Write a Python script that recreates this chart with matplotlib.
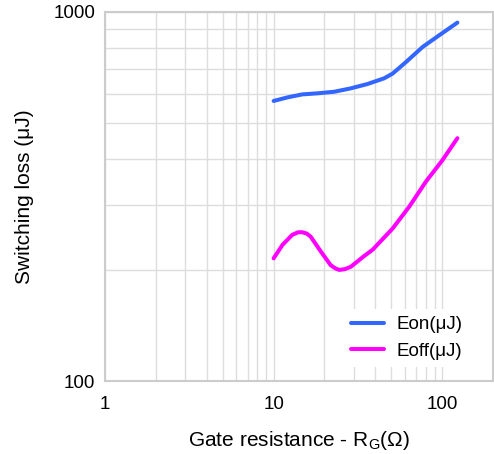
import matplotlib
matplotlib.use("Agg")
import matplotlib.pyplot as plt
from matplotlib.ticker import FixedLocator, NullFormatter, LogLocator

plt.rcParams['font.family'] = ['Liberation Sans', 'DejaVu Sans']

# Data
rg_on = [10, 12.1, 14.8, 18.2, 22.9, 28.7, 36, 45.2, 50.8, 61, 76.5, 96, 123]
eon = [574, 587, 598, 602, 608, 621, 638, 661, 681, 732, 804, 865, 936]

rg_off = [10, 11.3, 12.9, 14.0, 14.8, 15.7, 16.6, 19.1, 21.8, 23.2, 24.5, 26.5, 28.7,
          34.4, 38.7, 50.8, 63.8, 80, 100.4, 123]
eoff = [215, 234, 249, 253, 253, 251, 246, 224, 206, 202, 200, 201, 204,
        218, 227, 259, 297, 347, 397, 455]

x_ticks = [1, 10, 100]
x_ticklabels = ["1", "10", "100"]
y_ticks = [100, 1000]
y_ticklabels = ["100", "1000"]

fig = plt.figure(figsize=(4.94, 4.54), dpi=100)
ax = fig.add_axes([105/494, 1-381/454, 388/494, 369/454])

ax.plot(rg_on, eon, color='#3366ff', lw=2.9, label='Eon(μJ)',
        solid_capstyle='round', solid_joinstyle='round')
ax.plot(rg_off, eoff, color='#ff00ff', lw=2.9, label='Eoff(μJ)',
        solid_capstyle='round', solid_joinstyle='round')

ax.set_xscale('log')
ax.set_yscale('log')
ax.set_xlim(1, 200)
ax.set_ylim(100, 1000)

ax.xaxis.set_major_locator(FixedLocator(x_ticks))
ax.set_xticklabels(x_ticklabels)
ax.yaxis.set_major_locator(FixedLocator(y_ticks))
ax.set_yticklabels(y_ticklabels)
ax.xaxis.set_minor_locator(LogLocator(base=10, subs=range(2, 10), numticks=20))
ax.yaxis.set_minor_locator(LogLocator(base=10, subs=range(2, 10), numticks=20))
ax.xaxis.set_minor_formatter(NullFormatter())
ax.yaxis.set_minor_formatter(NullFormatter())

ax.grid(True, which='both', color='#dddddd', lw=1.0)
ax.set_axisbelow(True)
ax.tick_params(which='both', length=0, labelsize=13.5, colors='#000000')
ax.tick_params(axis='x', pad=11)
ax.tick_params(axis='y', pad=7)
for s in ax.spines.values():
    s.set_color('#cccccc')
    s.set_linewidth(1.5)

ax.set_xlabel('Gate resistance - R$_\\mathregular{G}$(Ω)', fontsize=15, labelpad=11)
ax.set_ylabel('Switching loss (μJ)', fontsize=15, labelpad=14)

leg = ax.legend(loc='center left', bbox_to_anchor=(0.591, 0.117), frameon=True,
                fontsize=13.5, handlelength=1.75, handletextpad=0.65,
                labelspacing=0.5, borderpad=0.4, fancybox=False)
leg.get_frame().set_edgecolor('none')
leg.get_frame().set_facecolor('white')
leg.get_frame().set_alpha(1)

fig.savefig('out.png', dpi=100)
